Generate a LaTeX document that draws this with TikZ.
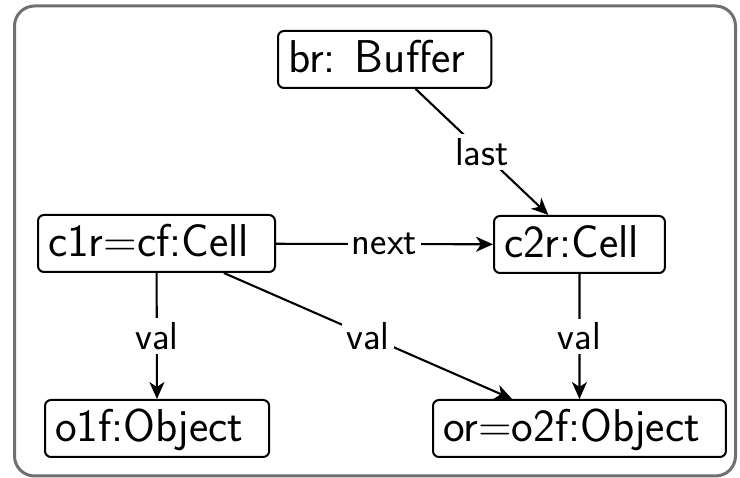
\documentclass[tikz,border=0pt]{standalone}
\usetikzlibrary{arrows.meta}
\definecolor{framegray}{RGB}{112,112,112}
\tikzset{
  obj/.style={draw, rounded corners=6pt, line width=2pt, anchor=north west,
    font=\fontsize{46}{52}\selectfont\sffamily, inner xsep=10pt, inner ysep=6.5pt,
    text height=35pt, text depth=9pt, execute at end node={\hspace*{16pt}}},
  lbl/.style={fill=white, inner sep=4pt, font=\fontsize{39}{44}\selectfont\sffamily},
  conn/.style={line width=2.1pt, -{Stealth[length=17pt,width=15pt,inset=5pt]}}
}
\begin{document}
\begin{tikzpicture}[x=1pt,y=-1pt]
\useasboundingbox (0,0) rectangle (740,478);
\draw[framegray, line width=3pt, rounded corners=20pt] (14.5,6) rectangle (735.5,476);
\node[obj] (br) at (277,30) {br: Buffer};
\node[obj] (c1r) at (37,214) {c1r=cf:Cell};
\node[obj] (c2r) at (493,215) {c2r:Cell};
\node[obj] (o1f) at (44,399) {o1f:Object};
\node[obj] (or) at (432,399) {or=o2f:Object};
\draw[conn] (br) -- node[lbl] {last} (c2r);
\draw[conn] (c1r) -- node[lbl] {next} (c2r);
\draw[conn] (c1r) -- node[lbl] {val} (o1f);
\draw[conn] (c1r) -- node[lbl] {val} (or);
\draw[conn] (c2r) -- node[lbl] {val} (or);
\end{tikzpicture}
\end{document}
